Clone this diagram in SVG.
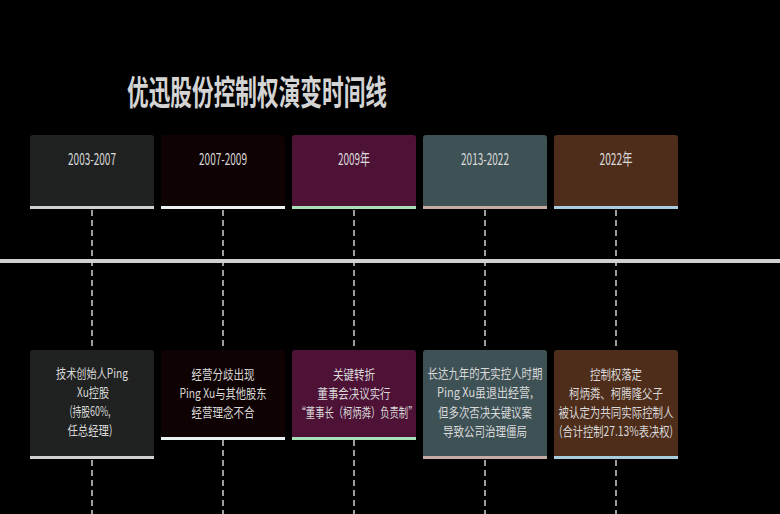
<svg xmlns="http://www.w3.org/2000/svg" width="780" height="514" viewBox="0 0 780 514">
<style>
.t{font-family:"Noto Sans CJK SC","Liberation Sans",sans-serif;fill:#d9d9d9;text-anchor:middle;dominant-baseline:central}
.lb{font-size:16px}
.bd{font-size:13px}
.ttl{font-family:"Noto Sans CJK SC","Liberation Sans",sans-serif;fill:#d4d4d4;font-size:34px;font-weight:bold;dominant-baseline:central}
.dash{stroke:#c4c4c4;stroke-width:1.6;stroke-dasharray:6 4;fill:none}
</style>
<rect width="780" height="514" fill="#000"/>
<text class="ttl" x="127" y="90" textLength="260" lengthAdjust="spacingAndGlyphs">优迅股份控制权演变时间线</text>
<g id="connectors">
<line class="dash" x1="92" y1="210" x2="92" y2="514"/>
<line class="dash" x1="223" y1="210" x2="223" y2="514"/>
<line class="dash" x1="354" y1="210" x2="354" y2="514"/>
<line class="dash" x1="485" y1="210" x2="485" y2="514"/>
<line class="dash" x1="616" y1="210" x2="616" y2="514"/>
<rect id="axis" x="0" y="259" width="780" height="4" fill="#d0d0d0"/>
</g>
<g id="p1">
<rect x="30" y="135" width="124" height="74" rx="3" fill="#202221"/>
<rect x="30" y="206" width="124" height="3" fill="#d0d0d0"/>
<text class="t lb" x="92" y="158" textLength="48" lengthAdjust="spacingAndGlyphs">2003-2007</text>
</g>
<g id="p2">
<rect x="161" y="135" width="124" height="74" rx="3" fill="#0f0202"/>
<rect x="161" y="206" width="124" height="3" fill="#eaf2f2"/>
<text class="t lb" x="223" y="158" textLength="48" lengthAdjust="spacingAndGlyphs">2007-2009</text>
</g>
<g id="p3">
<rect x="292" y="135" width="124" height="74" rx="3" fill="#4e1237"/>
<rect x="292" y="206" width="124" height="3" fill="#a8e0b8"/>
<text class="t lb" x="354" y="158" textLength="32" lengthAdjust="spacingAndGlyphs">2009年</text>
</g>
<g id="p4">
<rect x="423" y="135" width="124" height="74" rx="3" fill="#3e5155"/>
<rect x="423" y="206" width="124" height="3" fill="#c4aca4"/>
<text class="t lb" x="485" y="158" textLength="48" lengthAdjust="spacingAndGlyphs">2013-2022</text>
</g>
<g id="p5">
<rect x="554" y="135" width="124" height="74" rx="3" fill="#4e2d1b"/>
<rect x="554" y="206" width="124" height="3" fill="#a8cce0"/>
<text class="t lb" x="616" y="158" textLength="33" lengthAdjust="spacingAndGlyphs">2022年</text>
</g>
<g id="e1">
<rect x="30" y="350" width="124" height="109" rx="3" fill="#202221"/>
<rect x="30" y="456" width="124" height="3" fill="#d0d0d0"/>
<text class="t bd" x="92" y="372" textLength="72" lengthAdjust="spacingAndGlyphs">技术创始人Ping</text>
<text class="t bd" x="93" y="391" textLength="32" lengthAdjust="spacingAndGlyphs">Xu控股</text>
<text class="t bd" x="90" y="410" textLength="41" lengthAdjust="spacingAndGlyphs">(持股60%,</text>
<text class="t bd" x="90" y="429" textLength="45" lengthAdjust="spacingAndGlyphs">任总经理)</text>
</g>
<g id="e2">
<rect x="161" y="350" width="124" height="90" rx="3" fill="#0f0202"/>
<rect x="161" y="437" width="124" height="3" fill="#eaf2f2"/>
<text class="t bd" x="223" y="373" textLength="63" lengthAdjust="spacingAndGlyphs">经营分歧出现</text>
<text class="t bd" x="223" y="392" textLength="87" lengthAdjust="spacingAndGlyphs">Ping Xu与其他股东</text>
<text class="t bd" x="223" y="411" textLength="63" lengthAdjust="spacingAndGlyphs">经营理念不合</text>
</g>
<g id="e3">
<rect x="292" y="350" width="124" height="90" rx="3" fill="#4e1237"/>
<rect x="292" y="437" width="124" height="3" fill="#a8e0b8"/>
<text class="t bd" x="354" y="373" textLength="42" lengthAdjust="spacingAndGlyphs">关键转折</text>
<text class="t bd" x="354" y="392" textLength="73" lengthAdjust="spacingAndGlyphs">董事会决议实行</text>
<text class="t bd" transform="translate(357,411) scale(0.72,1)" x="0" y="0" textLength="168" lengthAdjust="spacingAndGlyphs">“董事长（柯炳粦）负责制”</text>
</g>
<g id="e4">
<rect x="423" y="350" width="124" height="109" rx="3" fill="#3e5155"/>
<rect x="423" y="456" width="124" height="3" fill="#c4aca4"/>
<text class="t bd" x="485" y="372.5" textLength="115" lengthAdjust="spacingAndGlyphs">长达九年的无实控人时期</text>
<text class="t bd" x="485" y="391.5" textLength="96" lengthAdjust="spacingAndGlyphs">Ping Xu虽退出经营,</text>
<text class="t bd" x="485" y="411.5" textLength="94" lengthAdjust="spacingAndGlyphs">但多次否决关键议案</text>
<text class="t bd" x="485" y="430.5" textLength="84" lengthAdjust="spacingAndGlyphs">导致公司治理僵局</text>
</g>
<g id="e5">
<rect x="554" y="350" width="124" height="109" rx="3" fill="#4e2d1b"/>
<rect x="554" y="456" width="124" height="3" fill="#a8cce0"/>
<text class="t bd" x="616" y="373" textLength="52" lengthAdjust="spacingAndGlyphs">控制权落定</text>
<text class="t bd" x="616" y="392" textLength="94" lengthAdjust="spacingAndGlyphs">柯炳粦、柯腾隆父子</text>
<text class="t bd" x="616" y="411" textLength="115" lengthAdjust="spacingAndGlyphs">被认定为共同实际控制人</text>
<text class="t bd" x="616" y="430" textLength="114" lengthAdjust="spacingAndGlyphs">(合计控制27.13%表决权)</text>
</g>
</svg>
